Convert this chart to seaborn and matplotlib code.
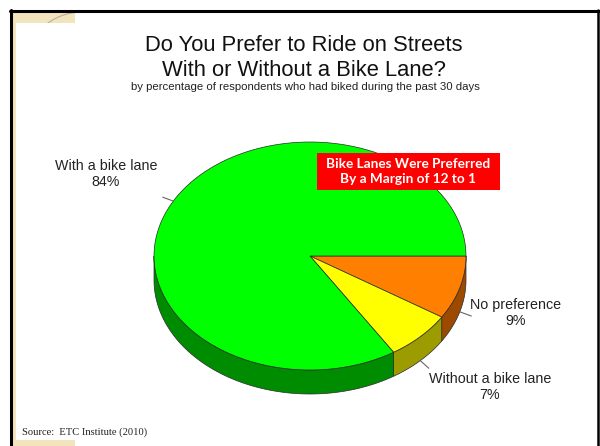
import numpy as np
import matplotlib
matplotlib.use("Agg")
import matplotlib.pyplot as plt
from matplotlib.patches import Polygon, Rectangle, Arc
import seaborn as sns

# data
labels = ["No preference", "Without a bike lane", "With a bike lane"]
shares = [9, 7, 84]
top_colors = ["#FF8000", "#FFFF00", "#00FF00"]
side_colors = ["#9C4A00", "#9C9C00", "#008C00"]
title_lines = ["Do You Prefer to Ride on Streets", "With or Without a Bike Lane?"]
subtitle = "by percentage of respondents who had biked during the past 30 days"
callout = "Bike Lanes Were Preferred\nBy a Margin of 12 to 1"
source = "Source:  ETC Institute (2010)"

sns.set_theme(style="white")
plt.rcParams["font.family"] = ["Liberation Sans", "DejaVu Sans"]

fig = plt.figure(figsize=(6, 4.46), dpi=100)
ax = fig.add_axes([0, 0, 1, 1])
ax.set_xlim(0, 600)
ax.set_ylim(446, 0)
ax.axis("off")

# pie geometry (pixel space, y down)
cx, cy, rx, ry, depth = 310, 256, 156, 114, 24


def rim(a0, a1, n=120, dy=0):
    t = np.radians(np.linspace(a0, a1, n))
    return np.column_stack([cx + rx * np.cos(t), cy + ry * np.sin(t) + dy])


edges = np.concatenate([[0], np.cumsum(shares)]) / sum(shares) * 360

# side walls (front half only: 0..180 deg)
for i in range(len(shares)):
    a0, a1 = edges[i], min(edges[i + 1], 180)
    if a0 >= 180:
        continue
    top = rim(a0, a1)
    bot = rim(a1, a0, dy=depth)
    ax.add_patch(Polygon(np.vstack([top, bot]), closed=True, fc=side_colors[i],
                         ec="#2a2a2a", lw=0.5, zorder=2))

# top faces
for i in range(len(shares)):
    pts = np.vstack([[cx, cy], rim(edges[i], edges[i + 1])])
    ax.add_patch(Polygon(pts, closed=True, fc=top_colors[i], ec="#2a2a2a",
                         lw=0.5, zorder=3))

# leader lines and labels
label_pos = {"No preference": (516, 313), "Without a bike lane": (490, 387),
             "With a bike lane": (106, 174)}
for i, lab in enumerate(labels):
    mid = np.radians((edges[i] + edges[i + 1]) / 2)
    dy = depth if np.sin(mid) > 0 else 0
    x0 = cx + rx * np.cos(mid)
    y0 = cy + ry * np.sin(mid) + dy
    x1 = x0 + 12 * np.cos(mid)
    y1 = y0 + 8 * np.sin(mid) + (2 if dy else 0)
    ax.plot([x0, x1], [y0, y1], color="#666666", lw=0.8, zorder=4)
    lx, ly = label_pos[lab]
    ax.text(lx, ly, f"{lab}\n{shares[i]}%", ha="center", va="center",
            fontsize=10.3, color="#222222", linespacing=1.1)

# titles
ax.text(304, 51, title_lines[0], ha="center", va="baseline", fontsize=15.8,
        color="#111111")
ax.text(304, 76, title_lines[1], ha="center", va="baseline", fontsize=15.8,
        color="#111111")
ax.text(305, 87, subtitle, ha="center", va="center", fontsize=8.2,
        color="#222222")

# red callout box
ax.add_patch(Rectangle((317, 153), 183, 37, fc="#FF0000", ec="none", zorder=5))
ax.text(408, 171.5, callout, ha="center", va="center", fontsize=9.8,
        fontweight="bold", color="white", family=["Lato", "DejaVu Sans"],
        linespacing=1.25, zorder=6)

ax.text(22, 432, source, ha="left", va="center", fontsize=7.6,
        color="#222222", family=["Liberation Serif", "DejaVu Serif"])

# slide frame
corner = Rectangle((13, 12), 62, 11, fc="#F2E4BC", ec="none", zorder=1)
ax.add_patch(corner)
arc = Arc((82, 70), 116, 116, theta1=228, theta2=268, color="#B8B0A0",
          lw=0.8, zorder=1)
ax.add_patch(arc)
arc.set_clip_path(corner)
ax.add_patch(Rectangle((12.5, 12), 3.5, 434, fc="#F2E4BC", ec="none", zorder=1))
ax.add_patch(Rectangle((13, 440), 62, 6, fc="#F2E4BC", ec="none", zorder=1))
ax.plot([10, 600], [10.5, 10.5], color="black", lw=2.2, zorder=7)
ax.plot([11, 11], [10, 446], color="black", lw=2.2, zorder=7)
ax.plot([598, 598], [10, 446], color="black", lw=1.8, zorder=7)

fig.savefig("out.png", dpi=100)
